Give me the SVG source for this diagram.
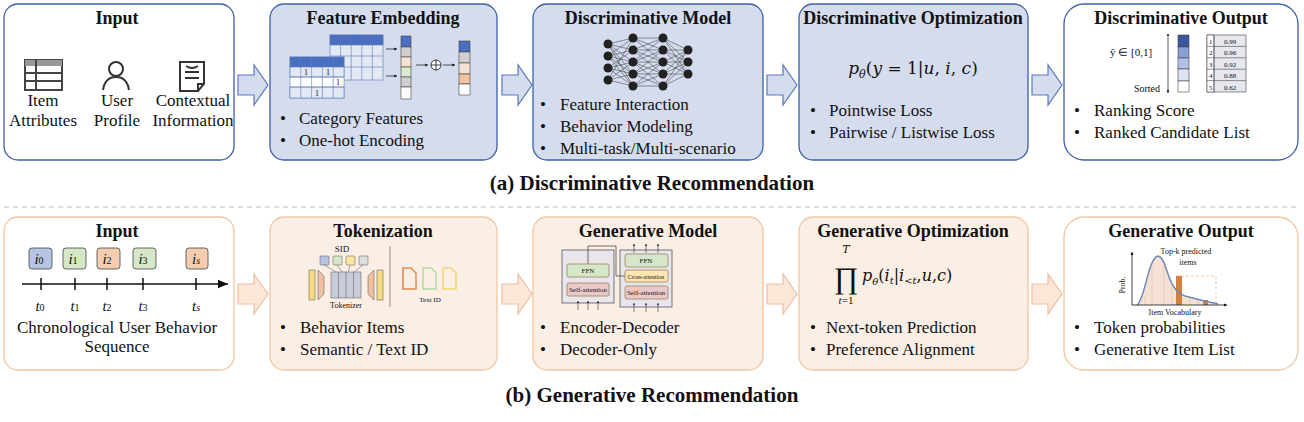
<svg xmlns="http://www.w3.org/2000/svg" width="1304" height="422" viewBox="0 0 1304 422">
<style>
text{font-family:"Liberation Serif",serif;fill:#111}
.t{font-weight:bold;font-size:18px;text-anchor:middle}
.cap{font-weight:bold;font-size:21px;text-anchor:middle}
.b{font-size:17px}
.s{font-size:8px}
.bx{stroke:#3f5fa8;stroke-width:1.3}
.ox{stroke:#f0c6a4;stroke-width:1.3}
.ba{fill:#d4dcee;stroke:#5a78c0;stroke-width:1.2}
.oa{fill:#fbe6d8;stroke:#f0c0a0;stroke-width:1.2}
.m{font-family:"DejaVu Serif",serif;font-style:italic}
</style>
<defs>
<marker id="ah" markerWidth="8" markerHeight="8" refX="7" refY="4" orient="auto"><path d="M0,1 L7,4 L0,7Z" fill="#111"/></marker>
<marker id="sa" markerWidth="5" markerHeight="5" refX="4" refY="2.5" orient="auto"><path d="M0,0.5 L4,2.5 L0,4.5Z" fill="#111"/></marker>
<path id="barr" d="M0,-10 H16 V-20 L30,0 L16,20 V10 H0Z"/>
</defs>

<g id="connectors">
<use href="#barr" class="ba" x="238" y="85"/>
<use href="#barr" class="ba" x="502" y="85"/>
<use href="#barr" class="ba" x="767" y="85"/>
<use href="#barr" class="ba" x="1032" y="85"/>
<use href="#barr" class="oa" x="238" y="294"/>
<use href="#barr" class="oa" x="502" y="294"/>
<use href="#barr" class="oa" x="767" y="294"/>
<use href="#barr" class="oa" x="1032" y="294"/>
<line x1="4" y1="207" x2="1300" y2="207" stroke="#bbb" stroke-dasharray="5,4"/>
</g>

<g id="input-a">
<rect x="4" y="4" width="230" height="156" rx="14" fill="#fff" class="bx"/>
<text class="t" x="117" y="24">Input</text>
<rect x="25" y="60" width="37" height="30" fill="none" stroke="#444" stroke-width="2"/>
<rect x="25" y="60" width="37" height="6" fill="#999"/>
<path d="M25,73 H62 M25,81 H62 M36,60 V90" stroke="#444" stroke-width="2"/>
<circle cx="116" cy="69" r="7" fill="none" stroke="#333" stroke-width="2"/>
<path d="M103,90 Q105,77 116,77 Q127,77 129,90" fill="none" stroke="#333" stroke-width="2"/>
<path d="M180,62 H204 V84 L198,91 H180Z M198,91 V84 H204" fill="none" stroke="#333" stroke-width="2"/>
<path d="M185,72 H199 M185,78 H199 M186,66 Q192,70 198,66" fill="none" stroke="#333" stroke-width="2"/>
<text class="b" x="43" y="106" text-anchor="middle">Item</text>
<text class="b" x="43" y="126" text-anchor="middle">Attributes</text>
<text class="b" x="117" y="106" text-anchor="middle">User</text>
<text class="b" x="117" y="126" text-anchor="middle">Profile</text>
<text class="b" x="193" y="106" text-anchor="middle">Contextual</text>
<text class="b" x="193" y="126" text-anchor="middle">Information</text>
</g>

<g id="feature-embedding">
<rect x="270" y="4" width="227" height="156" rx="14" fill="#d4dcee" class="bx"/>
<text class="t" x="383" y="24">Feature Embedding</text>
<g stroke="#6078b8" stroke-width="0.6">
<rect x="330" y="35" width="53" height="45" fill="#e2e8f4"/>
<rect x="330" y="35" width="53" height="10" fill="#4a6fc0"/>
<path d="M340.6,35 V80 M351.2,35 V80 M361.8,35 V80 M372.4,35 V80 M330,56 H383 M330,67 H383" fill="none"/>
<rect x="290" y="57" width="54" height="41" fill="#fff"/>
<rect x="290" y="57" width="54" height="10" fill="#4a6fc0"/>
<rect x="290" y="67" width="54" height="10" fill="#e2e8f4"/>
<rect x="290" y="87" width="54" height="11" fill="#e2e8f4"/>
<path d="M300.8,57 V98 M311.6,57 V98 M322.4,57 V98 M333.2,57 V98 M290,77 H344 M290,87 H344" fill="none"/>
</g>
<text class="s" x="306" y="75" text-anchor="middle">1</text>
<text class="s" x="328" y="75" text-anchor="middle">1</text>
<text class="s" x="338" y="85" text-anchor="middle">1</text>
<text class="s" x="317" y="96" text-anchor="middle">1</text>
<line x1="386" y1="49" x2="397" y2="49" stroke="#111" stroke-width="0.7" marker-end="url(#sa)"/>
<line x1="386" y1="76" x2="397" y2="76" stroke="#111" stroke-width="0.7" marker-end="url(#sa)"/>
<g stroke="#444" stroke-width="0.6">
<rect x="401" y="36" width="10" height="11" fill="#4a6fc0"/><rect x="401" y="47" width="10" height="10" fill="#d0d0d0"/><rect x="401" y="57" width="10" height="10" fill="#f6e2d4"/><rect x="401" y="67" width="10" height="10" fill="#dbe8d2"/><rect x="401" y="77" width="10" height="10" fill="#d0d0d0"/><rect x="401" y="87" width="10" height="12" fill="#fff"/>
<rect x="459" y="41" width="11" height="11" fill="#4a6fc0"/><rect x="459" y="52" width="11" height="11" fill="#d0d0d0"/><rect x="459" y="63" width="11" height="11" fill="#f6e2d4"/><rect x="459" y="74" width="11" height="10" fill="#f0c4a0"/><rect x="459" y="84" width="11" height="11" fill="#fff"/>
</g>
<line x1="416" y1="65" x2="428" y2="65" stroke="#111" stroke-width="0.7" marker-end="url(#sa)"/>
<circle cx="436" cy="65" r="5" fill="#fff" stroke="#111" stroke-width="0.8"/>
<path d="M431,65 H441 M436,60 V70" stroke="#111" stroke-width="0.8"/>
<line x1="443" y1="65" x2="455" y2="65" stroke="#111" stroke-width="0.7" marker-end="url(#sa)"/>
<text class="b" x="280" y="124">•</text><text class="b" x="299" y="124">Category Features</text>
<text class="b" x="280" y="146">•</text><text class="b" x="299" y="146">One-hot Encoding</text>
</g>

<g id="disc-model">
<rect x="533" y="4" width="230" height="156" rx="14" fill="#d4dcee" class="bx"/>
<text class="t" x="648" y="24">Discriminative Model</text>
<g stroke="#333" stroke-width="0.5">
<path d="M608,44 L633,38 M608,44 L633,50 M608,44 L633,62 M608,44 L633,74 M608,56 L633,38 M608,56 L633,50 M608,56 L633,62 M608,56 L633,74 M608,68 L633,50 M608,68 L633,62 M608,68 L633,74 M608,68 L633,86 M608,80 L633,62 M608,80 L633,74 M608,80 L633,86 M608,56 L633,86 M608,44 L633,86 M608,80 L633,38 M633,38 L663,38 M633,38 L663,50 M633,38 L663,62 M633,50 L663,38 M633,50 L663,50 M633,50 L663,62 M633,50 L663,74 M633,62 L663,38 M633,62 L663,50 M633,62 L663,62 M633,62 L663,74 M633,62 L663,86 M633,74 L663,50 M633,74 L663,62 M633,74 L663,74 M633,74 L663,86 M633,86 L663,62 M633,86 L663,74 M633,86 L663,86 M663,38 L688,50 M663,50 L688,50 M663,62 L688,50 M663,74 L688,50 M663,86 L688,50 M663,38 L688,62 M663,50 L688,62 M663,62 L688,62 M663,74 L688,62 M663,86 L688,62 M663,38 L688,74 M663,50 L688,74 M663,62 L688,74 M663,74 L688,74 M663,86 L688,74" fill="none"/>
</g>
<g fill="#222">
<circle cx="608" cy="44" r="4.5"/><circle cx="608" cy="56" r="4.5"/><circle cx="608" cy="68" r="4.5"/><circle cx="608" cy="80" r="4.5"/>
<circle cx="633" cy="38" r="4.5"/><circle cx="633" cy="50" r="4.5"/><circle cx="633" cy="62" r="4.5"/><circle cx="633" cy="74" r="4.5"/><circle cx="633" cy="86" r="4.5"/>
<circle cx="663" cy="38" r="4.5"/><circle cx="663" cy="50" r="4.5"/><circle cx="663" cy="62" r="4.5"/><circle cx="663" cy="74" r="4.5"/><circle cx="663" cy="86" r="4.5"/>
<circle cx="688" cy="50" r="4.5"/><circle cx="688" cy="62" r="4.5"/><circle cx="688" cy="74" r="4.5"/>
</g>
<text class="b" x="540" y="110">•</text><text class="b" x="560" y="110">Feature Interaction</text>
<text class="b" x="540" y="132">•</text><text class="b" x="560" y="132">Behavior Modeling</text>
<text class="b" x="540" y="154">•</text><text class="b" x="560" y="154">Multi-task/Multi-scenario</text>
</g>

<g id="disc-opt">
<rect x="799" y="4" width="229" height="156" rx="14" fill="#d4dcee" class="bx"/>
<text class="t" x="913" y="24">Discriminative Optimization</text>
<text class="m" x="913" y="74" font-size="17" text-anchor="middle">p<tspan font-size="11" dy="4">θ</tspan><tspan dy="-4" font-style="normal">(</tspan>y<tspan font-style="normal"> = 1|</tspan>u<tspan font-style="normal">, </tspan>i<tspan font-style="normal">, </tspan>c<tspan font-style="normal">)</tspan></text>
<text class="b" x="810" y="116">•</text><text class="b" x="829" y="116">Pointwise Loss</text>
<text class="b" x="810" y="138">•</text><text class="b" x="829" y="138">Pairwise / Listwise Loss</text>
</g>

<g id="disc-output">
<rect x="1064" y="4" width="234" height="156" rx="20" fill="#fff" class="bx"/>
<text class="t" x="1181" y="24">Discriminative Output</text>
<text x="1110" y="56" font-size="11">ŷ ∈ [0,1]</text>
<text x="1160" y="92" font-size="10" text-anchor="end">Sorted</text>
<line x1="1168" y1="37" x2="1168" y2="93" stroke="#111" stroke-width="0.7" marker-start="url(#sa)" marker-end="url(#sa)"/>
<g stroke="#445" stroke-width="0.6">
<rect x="1178" y="35" width="11" height="12" fill="#3a5598"/><rect x="1178" y="47" width="11" height="11" fill="#8a9fd4"/><rect x="1178" y="58" width="11" height="11" fill="#b2c0e4"/><rect x="1178" y="69" width="11" height="12" fill="#dde3f3"/><rect x="1178" y="81" width="11" height="11" fill="#fff"/>
<rect x="1207" y="35" width="39" height="57" fill="#e6e8ee"/><rect x="1207" y="35" width="7" height="57" fill="#fff"/>
<path d="M1214,35 V92 M1207,46.4 H1246 M1207,57.8 H1246 M1207,69.2 H1246 M1207,80.6 H1246" fill="none"/>
</g>
<g font-size="7"><text x="1209" y="44" font-size="7">1</text><text x="1209" y="55" font-size="7">2</text><text x="1209" y="67" font-size="7">3</text><text x="1209" y="78" font-size="7">4</text><text x="1209" y="90" font-size="7">5</text>
<text x="1230" y="44" font-size="7" text-anchor="middle">0.99</text><text x="1230" y="55" font-size="7" text-anchor="middle">0.96</text><text x="1230" y="67" font-size="7" text-anchor="middle">0.92</text><text x="1230" y="78" font-size="7" text-anchor="middle">0.88</text><text x="1230" y="90" font-size="7" text-anchor="middle">0.62</text></g>
<text class="b" x="1074" y="116">•</text><text class="b" x="1094" y="116">Ranking Score</text>
<text class="b" x="1074" y="138">•</text><text class="b" x="1094" y="138">Ranked Candidate List</text>
</g>

<text class="cap" x="652" y="190">(a) Discriminative Recommendation</text>

<g id="input-b">
<rect x="4" y="217" width="230" height="153" rx="14" fill="#fff" class="ox"/>
<text class="t" x="117" y="237">Input</text>
<g stroke="#444" stroke-width="0.8">
<rect x="29" y="248" width="23" height="21" rx="3" fill="#b8c4e4"/>
<rect x="63" y="248" width="23" height="21" rx="3" fill="#d6e6c8"/>
<rect x="97" y="248" width="23" height="21" rx="3" fill="#f4cdb0"/>
<rect x="133" y="248" width="23" height="21" rx="3" fill="#d6e6c8"/>
<rect x="186" y="248" width="22" height="21" rx="3" fill="#f4cdb0"/>
</g>
<g class="m" font-size="15" text-anchor="middle">
<text x="39" y="264">i<tspan font-size="10" font-style="normal">0</tspan></text>
<text x="73" y="264">i<tspan font-size="10" font-style="normal">1</tspan></text>
<text x="107" y="264">i<tspan font-size="10" font-style="normal">2</tspan></text>
<text x="143" y="264">i<tspan font-size="10" font-style="normal">3</tspan></text>
<text x="196" y="264">i<tspan font-size="10">s</tspan></text>
</g>
<line x1="22" y1="284" x2="228" y2="284" stroke="#111" stroke-width="1.5" marker-end="url(#ah)"/>
<path d="M41,278 V290 M75,278 V290 M107,278 V290 M143,278 V290 M196,278 V290" stroke="#111" stroke-width="1.5"/>
<g class="m" font-size="15" text-anchor="middle">
<text x="40" y="311">t<tspan font-size="10" font-style="normal">0</tspan></text>
<text x="75" y="311">t<tspan font-size="10" font-style="normal">1</tspan></text>
<text x="107" y="311">t<tspan font-size="10" font-style="normal">2</tspan></text>
<text x="143" y="311">t<tspan font-size="10" font-style="normal">3</tspan></text>
<text x="196" y="311">t<tspan font-size="10">s</tspan></text>
</g>
<text class="b" x="117" y="333" text-anchor="middle">Chronological  User Behavior</text>
<text class="b" x="117" y="352" text-anchor="middle">Sequence</text>
</g>

<g id="tokenization">
<rect x="270" y="217" width="227" height="153" rx="14" fill="#fbeee4" class="ox"/>
<text class="t" x="383" y="237">Tokenization</text>
<text x="342" y="252" font-size="9" text-anchor="middle">SID</text>
<g stroke="#555" stroke-width="0.5">
<rect x="320" y="256" width="9" height="9" rx="1" fill="#b8c4e4"/><rect x="333" y="256" width="9" height="9" rx="1" fill="#d6e6c8"/><rect x="346" y="256" width="9" height="9" rx="1" fill="#fbe6a0"/><rect x="359" y="256" width="9" height="9" rx="1" fill="#ddd"/>
<path d="M324,265 L338,273 M337,265 L343,273 M350,265 L348,273 M363,265 L353,273" fill="none"/>
<rect x="309" y="270" width="6" height="30" fill="#f6dc80"/>
<path d="M318,270 L324,276 V294 L318,300Z" fill="#f0c0a0"/>
<rect x="331" y="272" width="30" height="26" fill="#c8ccd8"/>
<path d="M338.5,272 V298 M346,272 V298 M353.5,272 V298" fill="none"/>
<path d="M374,270 L368,276 V294 L374,300Z" fill="#f0c0a0"/>
<rect x="377" y="270" width="6" height="30" fill="#f6dc80"/>
</g>
<text x="346" y="308" font-size="8" text-anchor="middle">Tokenizer</text>
<line x1="390" y1="246" x2="390" y2="307" stroke="#666" stroke-width="0.7"/>
<g fill="none" stroke-width="1.5">
<path d="M403,268 H411 L416,273 V289 H403Z" stroke="#e08a50"/>
<path d="M423,268 H431 L436,273 V289 H423Z" stroke="#b8d8a0"/>
<path d="M443,268 H451 L456,273 V289 H443Z" stroke="#f0d870"/>
</g>
<text x="430" y="302" font-size="7" text-anchor="middle">Text ID</text>
<text class="b" x="280" y="333">•</text><text class="b" x="300" y="333">Behavior Items</text>
<text class="b" x="280" y="355">•</text><text class="b" x="300" y="355">Semantic  / Text ID</text>
</g>

<g id="gen-model">
<rect x="533" y="217" width="230" height="153" rx="14" fill="#fbeee4" class="ox"/>
<text class="t" x="648" y="237">Generative Model</text>
<rect x="562" y="250" width="52" height="53" fill="#e8e6ea" stroke="#556" stroke-width="0.8"/>
<rect x="620" y="250" width="52" height="57" fill="#e8e6ea" stroke="#556" stroke-width="0.8"/>
<path d="M588,264 V246 H616 V276 H625" fill="none" stroke="#333" stroke-width="0.7"/>
<rect x="567" y="264" width="42" height="13" rx="2" fill="#d6e6c8" stroke="#a08060" stroke-width="0.8"/>
<rect x="567" y="283" width="42" height="13" rx="2" fill="#e8c8c8" stroke="#a08060" stroke-width="0.8"/>
<rect x="625" y="254" width="43" height="13" rx="2" fill="#d6e6c8" stroke="#a08060" stroke-width="0.8"/>
<rect x="625" y="270" width="43" height="12" rx="2" fill="#fbe6b0" stroke="#a08060" stroke-width="0.8"/>
<rect x="625" y="286" width="43" height="13" rx="2" fill="#e8c8c8" stroke="#a08060" stroke-width="0.8"/>
<text x="588" y="273" font-size="7" text-anchor="middle">FFN</text>
<text x="588" y="292" font-size="7" text-anchor="middle">Self-attention</text>
<text x="646" y="263" font-size="7" text-anchor="middle">FFN</text>
<text x="646" y="279" font-size="6" text-anchor="middle">Cross-attention</text>
<text x="646" y="295" font-size="7" text-anchor="middle">Self-attention</text>
<g stroke="#111" stroke-width="0.5" marker-end="url(#sa)">
<line x1="578" y1="310" x2="578" y2="301"/><line x1="588" y1="310" x2="588" y2="301"/><line x1="598" y1="310" x2="598" y2="301"/>
<line x1="634" y1="312" x2="634" y2="303"/><line x1="646" y1="312" x2="646" y2="303"/><line x1="658" y1="312" x2="658" y2="303"/>
<line x1="634" y1="253" x2="634" y2="244"/><line x1="646" y1="253" x2="646" y2="244"/><line x1="658" y1="253" x2="658" y2="244"/>
</g>
<text class="b" x="540" y="333">•</text><text class="b" x="560" y="333">Encoder-Decoder</text>
<text class="b" x="540" y="355">•</text><text class="b" x="560" y="355">Decoder-Only</text>
</g>

<g id="gen-opt">
<rect x="799" y="217" width="229" height="153" rx="14" fill="#fbeee4" class="ox"/>
<text class="t" x="913" y="237">Generative Optimization</text>
<text x="846" y="253" font-size="11" class="m" text-anchor="middle">T</text>
<text x="846" y="288" font-size="30" font-family="DejaVu Serif,serif" text-anchor="middle">∏</text>
<text x="846" y="304" font-size="11" font-family="DejaVu Sans,sans-serif" text-anchor="middle"><tspan font-style="italic">t</tspan>=1</text>
<text class="m" x="862" y="281" font-size="16">p<tspan font-size="10" dy="4">θ</tspan><tspan dy="-4" font-style="normal">(</tspan>i<tspan font-size="10" dy="3">t</tspan><tspan dy="-3" font-style="normal">|</tspan>i<tspan font-size="10" dy="3">&lt;t</tspan><tspan dy="-3" font-style="normal">,</tspan>u<tspan font-style="normal">,</tspan>c<tspan font-style="normal">)</tspan></text>
<text class="b" x="810" y="333">•</text><text class="b" x="826" y="333">Next-token Prediction</text>
<text class="b" x="810" y="355">•</text><text class="b" x="826" y="355">Preference Alignment</text>
</g>

<g id="gen-output">
<rect x="1064" y="217" width="234" height="153" rx="20" fill="#fff" class="ox"/>
<text class="t" x="1181" y="237">Generative Output</text>
<path d="M1137,305 C1145,300 1148,258 1158,256 C1168,258 1166,290 1185,296 C1200,300 1208,302 1218,304 V305Z" fill="#f6e2d4"/>
<g stroke="#e0c0a8" stroke-width="0.6"><path d="M1145,305 V296 M1152,305 V270 M1164,305 V262 M1172,305 V283 M1190,305 V297 M1198,305 V300 M1205,305 V302" fill="none"/></g>
<rect x="1176" y="276" width="6" height="29" fill="#d08040"/>
<rect x="1203" y="300" width="5" height="5" fill="#d08040"/>
<path d="M1176,276 H1216 V305" fill="none" stroke="#f0a070" stroke-width="0.6" stroke-dasharray="3,2"/>
<path d="M1137,305 C1145,300 1148,258 1158,256 C1168,258 1166,290 1185,296 C1200,300 1208,302 1218,304" fill="none" stroke="#7088b8" stroke-width="1.5"/>
<line x1="1132" y1="305" x2="1227" y2="305" stroke="#111" stroke-width="0.8" marker-end="url(#sa)"/>
<line x1="1132" y1="305" x2="1132" y2="252" stroke="#111" stroke-width="0.8" marker-end="url(#sa)"/>
<text x="1125" y="285" font-size="8" text-anchor="middle" transform="rotate(-90 1125 285)">Prob.</text>
<text x="1186" y="254" font-size="8" text-anchor="middle">Top-k predicted</text>
<text x="1188" y="265" font-size="8" text-anchor="middle">items</text>
<text x="1175" y="315" font-size="8" text-anchor="middle">Item Vocabulary</text>
<text class="b" x="1074" y="333">•</text><text class="b" x="1094" y="333">Token probabilities</text>
<text class="b" x="1074" y="355">•</text><text class="b" x="1094" y="355">Generative Item List</text>
</g>

<text class="cap" x="652" y="402">(b) Generative Recommendation</text>
</svg>
